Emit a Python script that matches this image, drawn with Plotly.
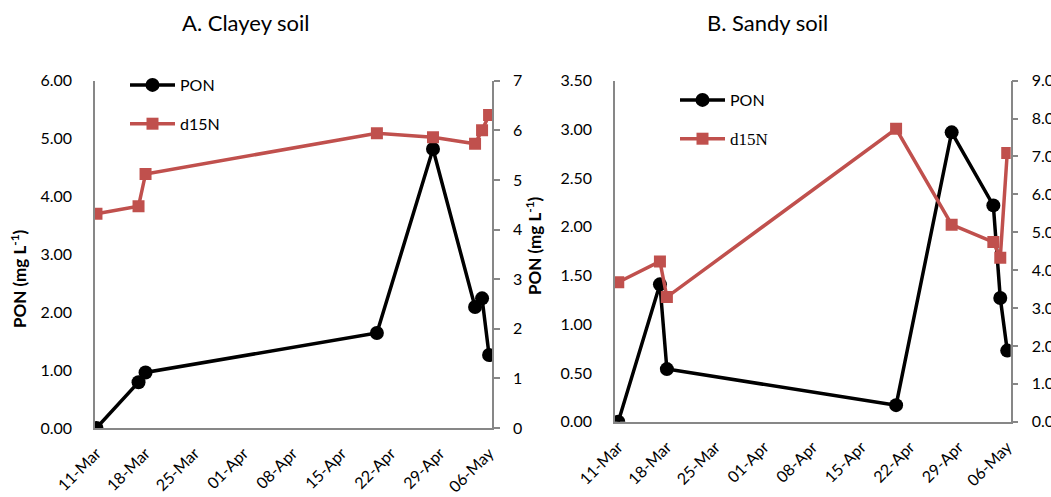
import plotly.graph_objects as go

# ---- data ----
dates = ["2013-03-11", "2013-03-17", "2013-03-18", "2013-04-20",
         "2013-04-28", "2013-05-04", "2013-05-05", "2013-05-06"]
pon_A = [0.00, 0.79, 0.96, 1.64, 4.82, 2.09, 2.24, 1.26]
d15n_A = [4.32, 4.47, 5.12, 5.94, 5.86, 5.73, 6.00, 6.31]
pon_B = [0.00, 1.41, 0.54, 0.17, 2.97, 2.22, 1.27, 0.73]
d15n_B = [3.68, 4.23, 3.29, 7.73, 5.20, 4.74, 4.33, 7.09]
tick_dates = ["2013-03-11", "2013-03-18", "2013-03-25", "2013-04-01", "2013-04-08",
              "2013-04-15", "2013-04-22", "2013-04-29", "2013-05-06"]
tick_labels = ["11-Mar", "18-Mar", "25-Mar", "01-Apr", "08-Apr",
               "15-Apr", "22-Apr", "29-Apr", "06-May"]

W, H = 1051, 497
FONT = "Lato, Carlito, Calibri, sans-serif"
RED = "#C0504D"
AX = "#878787"


def px(x):
    return x / W


def py(y):
    return 1 - y / H


fig = go.Figure()

fig.add_trace(go.Scatter(x=dates, y=pon_A, name="PON", xaxis="x", yaxis="y",
                         marker=dict(symbol="circle", size=14, color="black"),
                         line=dict(color="black", width=3.5), mode="lines+markers",
                         legend="legend", legendgroup="a1"))
fig.add_trace(go.Scatter(x=dates, y=d15n_A, name="d15N", xaxis="x", yaxis="y2",
                         marker=dict(symbol="square", size=12, color=RED),
                         line=dict(color=RED, width=3.5), mode="lines+markers",
                         legend="legend", legendgroup="a2"))
fig.add_trace(go.Scatter(x=dates, y=pon_B, name="PON", xaxis="x2", yaxis="y3",
                         marker=dict(symbol="circle", size=14, color="black"),
                         line=dict(color="black", width=3.5), mode="lines+markers",
                         legend="legend2", legendgroup="b1"))
fig.add_trace(go.Scatter(x=dates, y=d15n_B,
                         name="<span style='font-family:Liberation Serif, Times New Roman, serif;font-size:17px'>d15N</span>",
                         xaxis="x2", yaxis="y4",
                         marker=dict(symbol="square", size=12, color=RED),
                         line=dict(color=RED, width=3.5), mode="lines+markers",
                         legend="legend2", legendgroup="b2"))

tickfont = dict(family=FONT, size=16, color="#000")
xcommon = dict(type="date", tickvals=tick_dates, ticktext=tick_labels, tickangle=-45,
               showline=True, linecolor=AX, linewidth=1.5, ticks="", showgrid=False,
               zeroline=False, tickfont=tickfont, ticklabelstandoff=8, automargin=False)
ycommon = dict(showline=True, linecolor=AX, linewidth=1.5, showgrid=False,
               zeroline=False, tickfont=tickfont, automargin=False)

fig.update_layout(
    width=W, height=H,
    margin=dict(l=0, r=0, t=0, b=0, autoexpand=False),
    paper_bgcolor="white", plot_bgcolor="rgba(0,0,0,0)",
    font=dict(family=FONT, size=16, color="#000"),
    xaxis=dict(domain=[px(95), px(492)], anchor="y",
               range=["2013-03-10 19:00", "2013-05-06 10:00"], **xcommon),
    yaxis=dict(domain=[py(428), py(80.7)], anchor="x", range=[0, 6], dtick=1,
               tickformat=".2f", ticks="", ticklabelstandoff=18, **ycommon),
    yaxis2=dict(overlaying="y", side="right", anchor="x", range=[0, 7], dtick=1,
                ticks="outside", ticklen=6, tickcolor=AX, tickwidth=1.5,
                ticklabelstandoff=10, **ycommon),
    xaxis2=dict(domain=[px(615), px(1010.7)], anchor="y3",
                range=["2013-03-10 12:45", "2013-05-06 12:00"], **xcommon),
    yaxis3=dict(domain=[py(421.7), py(80.7)], anchor="x2", range=[0, 3.5], dtick=0.5,
                tickformat=".2f", ticks="", ticklabelstandoff=18, **ycommon),
    yaxis4=dict(overlaying="y3", side="right", anchor="x2", range=[0, 9], dtick=1,
                tickformat=".2f", ticks="outside", ticklen=6, tickcolor=AX, tickwidth=1.5,
                ticklabelstandoff=10, **ycommon),
    legend=dict(x=px(125), y=py(68), xanchor="left", yanchor="top",
                bgcolor="rgba(0,0,0,0)", font=dict(family=FONT, size=16),
                tracegroupgap=15, itemwidth=45),
    legend2=dict(x=px(675), y=py(83), xanchor="left", yanchor="top",
                 bgcolor="rgba(0,0,0,0)", font=dict(family=FONT, size=16),
                 tracegroupgap=15, itemwidth=45),
    showlegend=True,
)

annotations = [
    dict(text="A. Clayey soil", x=px(246), y=py(23), xref="paper", yref="paper",
         xanchor="center", yanchor="middle", showarrow=False,
         font=dict(family=FONT, size=22)),
    dict(text="B. Sandy soil", x=px(767), y=py(23), xref="paper", yref="paper",
         xanchor="center", yanchor="middle", showarrow=False,
         font=dict(family=FONT, size=22)),
    dict(text="<b>PON (mg L<sup>-1</sup>)</b>", x=px(18), y=py(279), xref="paper", yref="paper",
         xanchor="center", yanchor="middle", textangle=-90, showarrow=False,
         font=dict(family=FONT, size=17)),
    dict(text="<b>PON (mg L<sup>-1</sup>)</b>", x=px(533), y=py(246), xref="paper", yref="paper",
         xanchor="center", yanchor="middle", textangle=-90, showarrow=False,
         font=dict(family=FONT, size=17)),
]
fig.update_layout(annotations=annotations)

fig.write_html("out.html")
